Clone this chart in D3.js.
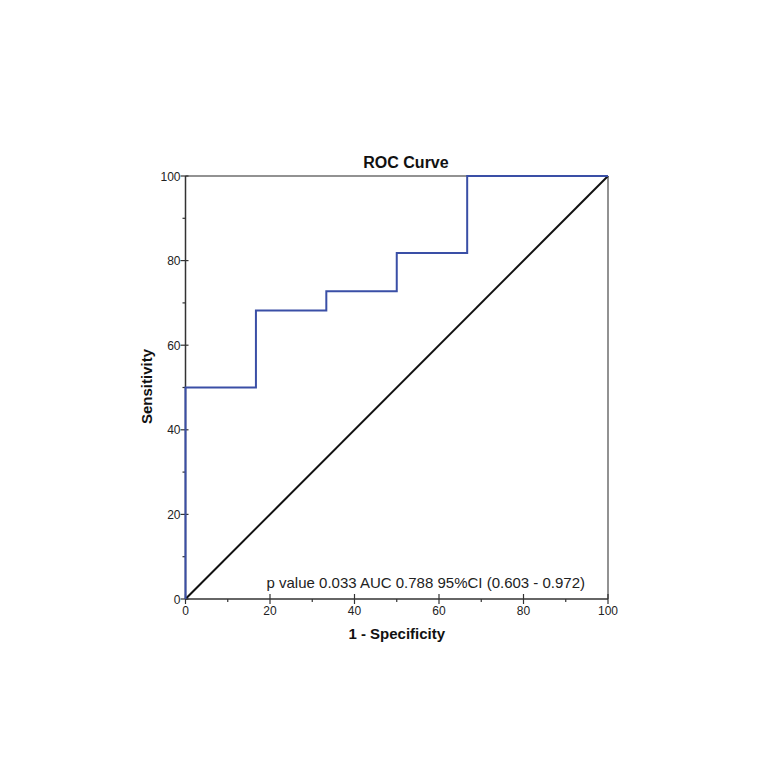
<!DOCTYPE html>
<html>
<head>
<meta charset="utf-8">
<script src="https://cdn.jsdelivr.net/npm/d3@7"></script>
<style>
  body { margin:0; background:#fff; }
  svg { display:block; font-family:"Liberation Sans", Arial, sans-serif; }
</style>
</head>
<body>
<svg id="chart"></svg>
<script>
// ROC step points (1 - specificity, sensitivity)
const fpr = [0, 0, 16.67, 16.67, 33.33, 33.33, 50, 50, 66.67, 66.67, 100];
const tpr = [0, 50, 50, 68.18, 68.18, 72.73, 72.73, 81.82, 81.82, 100, 100];
const ticksMajor = [0, 20, 40, 60, 80, 100];
const ticksMinor = [10, 30, 50, 70, 90];
const annotation = "p value 0.033 AUC 0.788 95%CI (0.603 - 0.972)";

const W = 774, H = 778;
const margin = { top:176, left:185.5, right:774-608, bottom:778-599 };
const innerW = W - margin.left - margin.right;
const innerH = H - margin.top - margin.bottom;

const svg = d3.select("#chart").attr("width", W).attr("height", H);
const g = svg.append("g").attr("transform", `translate(${margin.left},${margin.top})`);

const x = d3.scaleLinear().domain([0, 100]).range([0, innerW]);
const y = d3.scaleLinear().domain([0, 100]).range([innerH, 0]);

// frame: top and right in grey
g.append("line").attr("x1", 0).attr("x2", innerW).attr("y1", 0).attr("y2", 0)
  .attr("stroke", "#6e6e6e").attr("stroke-width", 1.5);
g.append("line").attr("x1", innerW).attr("x2", innerW).attr("y1", 0).attr("y2", innerH)
  .attr("stroke", "#6e6e6e").attr("stroke-width", 1.5);

// diagonal reference
g.append("line")
  .attr("x1", x(0)).attr("y1", y(0)).attr("x2", x(100)).attr("y2", y(100))
  .attr("stroke", "#111").attr("stroke-width", 2);

// x axis
const xAxis = g.append("g").attr("transform", `translate(0,${innerH})`);
xAxis.append("line").attr("x1", 0).attr("x2", innerW).attr("stroke", "#333").attr("stroke-width", 1.5);
xAxis.selectAll(".maj").data(ticksMajor).join("line")
  .attr("x1", d => x(d)).attr("x2", d => x(d)).attr("y1", -5).attr("y2", 5)
  .attr("stroke", "#333").attr("stroke-width", 1.2);
xAxis.selectAll(".min").data(ticksMinor).join("line")
  .attr("x1", d => x(d)).attr("x2", d => x(d)).attr("y1", 0).attr("y2", 3)
  .attr("stroke", "#333").attr("stroke-width", 1.2);
xAxis.selectAll("text").data(ticksMajor).join("text")
  .attr("x", d => x(d)).attr("y", 16).attr("text-anchor", "middle")
  .attr("font-size", 12).attr("fill", "#222").text(d => d);

// y axis
const yAxis = g.append("g");
yAxis.append("line").attr("y1", 0).attr("y2", innerH).attr("stroke", "#333").attr("stroke-width", 1.5);
yAxis.selectAll(".maj").data(ticksMajor).join("line")
  .attr("y1", d => y(d)).attr("y2", d => y(d)).attr("x1", -5).attr("x2", 3)
  .attr("stroke", "#333").attr("stroke-width", 1.2);
yAxis.selectAll(".min").data(ticksMinor).join("line")
  .attr("y1", d => y(d)).attr("y2", d => y(d)).attr("x1", -3).attr("x2", 0)
  .attr("stroke", "#333").attr("stroke-width", 1.2);
yAxis.selectAll("text").data(ticksMajor).join("text")
  .attr("x", -5).attr("y", d => y(d) + 4.5).attr("text-anchor", "end")
  .attr("font-size", 12).attr("fill", "#222").text(d => d);

// ROC curve
const pts = fpr.map((v, i) => [v, tpr[i]]);
g.append("path")
  .datum(pts)
  .attr("d", d3.line().x(d => x(d[0])).y(d => y(d[1])))
  .attr("fill", "none").attr("stroke", "#3a4fa6").attr("stroke-width", 2);

// annotation
g.append("text")
  .attr("x", 266.5 - margin.left).attr("y", innerH - 11)
  .attr("font-size", 15).attr("fill", "#222").text(annotation);

// titles
svg.append("text").attr("x", 406).attr("y", 168)
  .attr("text-anchor", "middle").attr("font-size", 16).attr("font-weight", "bold")
  .attr("fill", "#111").text("ROC Curve");
svg.append("text").attr("x", margin.left + innerW / 2).attr("y", 639)
  .attr("text-anchor", "middle").attr("font-size", 15).attr("font-weight", "bold")
  .attr("fill", "#111").text("1 - Specificity");
svg.append("text")
  .attr("transform", `translate(152,386.5) rotate(-90)`)
  .attr("text-anchor", "middle").attr("font-size", 15).attr("font-weight", "bold")
  .attr("fill", "#111").text("Sensitivity");
</script>
</body>
</html>
